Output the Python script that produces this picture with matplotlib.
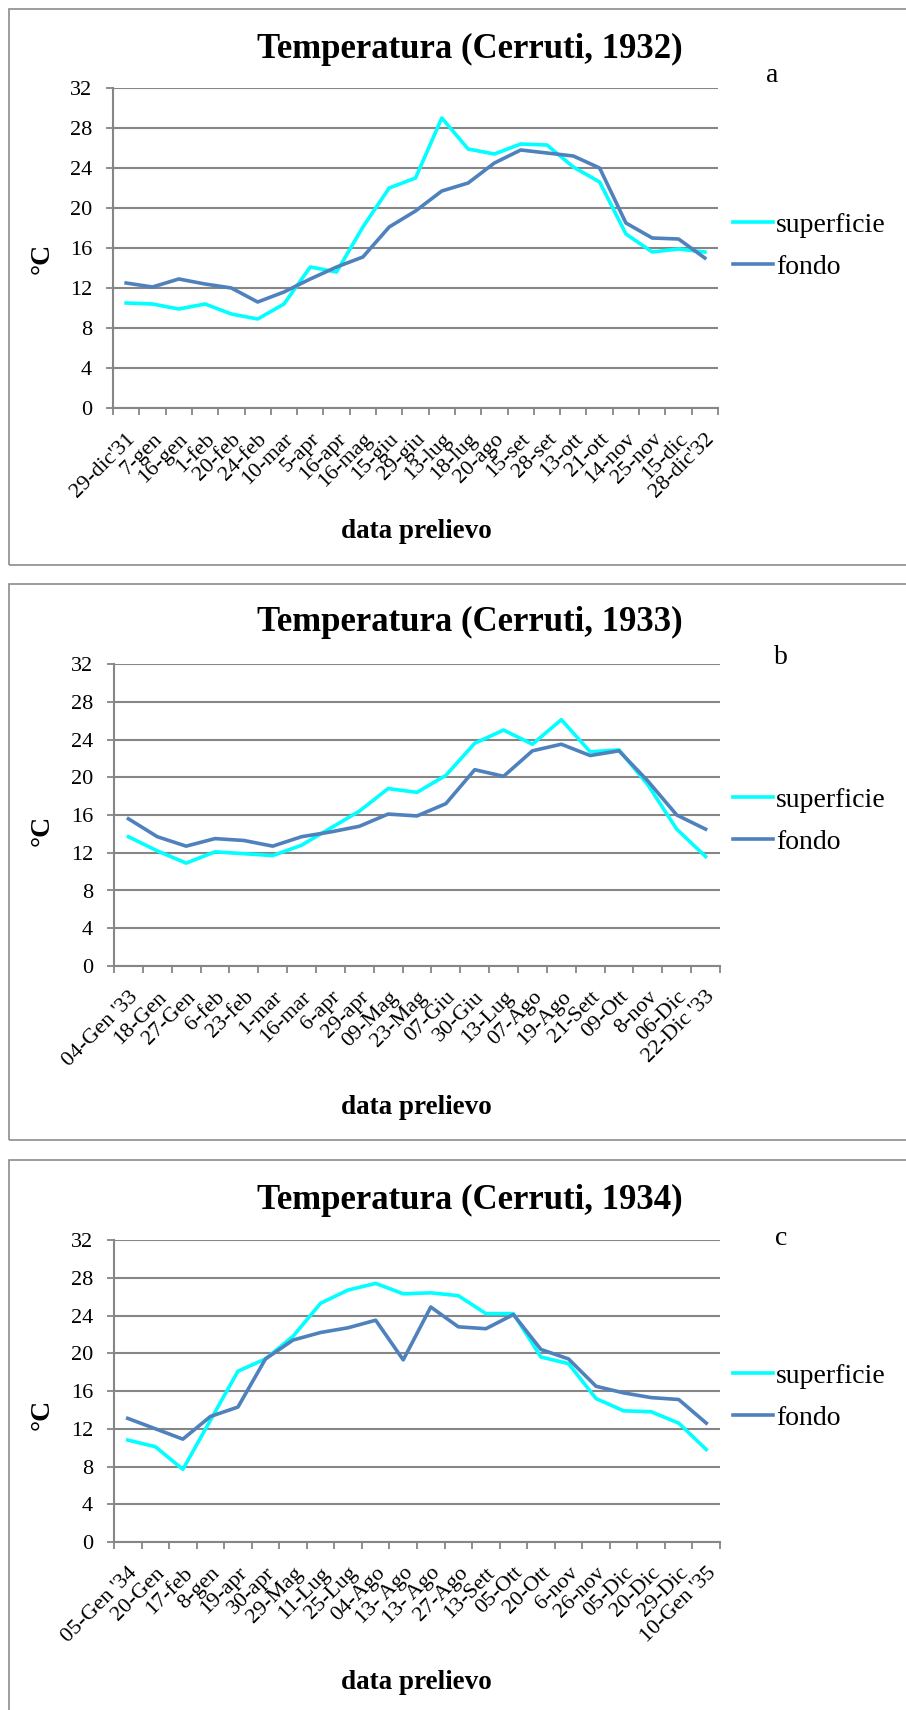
import matplotlib
matplotlib.use("Agg")
import matplotlib.pyplot as plt
from matplotlib.patches import Rectangle

plt.rcParams['font.family'] = ['Liberation Serif', 'DejaVu Serif']

W, H = 906, 1710

# --- dati ---
date_1932 = ["29-dic'31", "7-gen", "16-gen", "1-feb", "20-feb", "24-feb", "10-mar",
             "5-apr", "16-apr", "16-mag", "15-giu", "29-giu", "13-lug", "18-lug",
             "20-ago", "15-set", "28-set", "13-ott", "21-ott", "14-nov", "25-nov",
             "15-dic", "28-dic'32"]
sup_1932 = [10.5, 10.4, 9.9, 10.4, 9.4, 8.9, 10.4, 14.1, 13.6, 18.1, 22.0, 23.0,
            29.0, 25.9, 25.4, 26.4, 26.3, 24.1, 22.6, 17.4, 15.6, 15.9, 15.6]
fon_1932 = [12.5, 12.1, 12.9, 12.4, 12.0, 10.6, 11.6, 12.9, 14.1, 15.1, 18.1, 19.7,
            21.7, 22.5, 24.5, 25.8, 25.5, 25.2, 24.0, 18.5, 17.0, 16.9, 15.0]

date_1933 = ["04-Gen '33", "18-Gen", "27-Gen", "6-feb", "23-feb", "1-mar", "16-mar",
             "6-apr", "29-apr", "09-Mag", "23-Mag", "07-Giu", "30-Giu", "13-Lug",
             "07-Ago", "19-Ago", "21-Sett", "09-Ott", "8-nov", "06-Dic", "22-Dic '33"]
sup_1933 = [13.7, 12.2, 10.9, 12.1, 11.9, 11.7, 12.8, 14.6, 16.4, 18.8, 18.4, 20.2,
            23.6, 25.0, 23.5, 26.1, 22.7, 22.9, 19.2, 14.5, 11.6]
fon_1933 = [15.6, 13.7, 12.7, 13.5, 13.3, 12.7, 13.7, 14.2, 14.8, 16.1, 15.9, 17.2,
            20.8, 20.1, 22.8, 23.5, 22.3, 22.8, 19.6, 16.0, 14.5]

date_1934 = ["05-Gen '34", "20-Gen", "17-feb", "8-gen", "19-apr", "30-apr", "29-Mag",
             "11-Lug", "25-Lug", "04-Ago", "13- Ago", "13- Ago", "27-Ago", "13-Sett",
             "05-Ott", "20-Ott", "6-nov", "26-nov", "05-Dic", "20-Dic", "29-Dic",
             "10-Gen '35"]
sup_1934 = [10.8, 10.1, 7.7, 12.9, 18.1, 19.4, 21.8, 25.3, 26.7, 27.4, 26.3, 26.4,
            26.1, 24.2, 24.2, 19.6, 18.9, 15.2, 13.9, 13.8, 12.6, 9.8]
fon_1934 = [13.1, 12.0, 10.9, 13.3, 14.3, 19.4, 21.4, 22.2, 22.7, 23.5, 19.3, 24.9,
            22.8, 22.6, 24.1, 20.4, 19.4, 16.5, 15.8, 15.3, 15.1, 12.6]

# layout in pixel: (box_top, box_bottom, plot_left, plot_top, plot_right, plot_bottom,
#                   title_y, letter_x, letter_y, leg_y, xlabel_y, ylabel_y)
panels = [
    (date_1932, sup_1932, fon_1932, "Temperatura (Cerruti, 1932)", "a",
     (9, 565, 113, 88, 718, 408, 49, 772, 76, 246, 532, 258)),
    (date_1933, sup_1933, fon_1933, "Temperatura (Cerruti, 1933)", "b",
     (584, 1140, 114, 664, 720, 966, 622, 781, 657, 821, 1107, 830)),
    (date_1934, sup_1934, fon_1934, "Temperatura (Cerruti, 1934)", "c",
     (1160, 1712, 114, 1240, 720, 1542, 1200, 781, 1238, 1397, 1682, 1414)),
]

GRID = '#868686'
CYAN = '#00FFFF'
BLUE = '#4F81BD'

fig = plt.figure(figsize=(W / 100, H / 100), dpi=100)

for labels, sup, fon, title, letter, lay in panels:
    (bt, bb, pl, pt, pr, pb, ty, lx, ly, legy, xly, yly) = lay
    fig.patches.append(Rectangle((9 / W, 1 - bb / H), (W + 5 - 9) / W, (bb - bt) / H,
                                 transform=fig.transFigure, fill=False,
                                 edgecolor='#8c8c8c', linewidth=1.2))
    ax = fig.add_axes([pl / W, 1 - pb / H, (pr - pl) / W, (pb - pt) / H])
    x = range(len(labels))
    ax.plot(x, sup, color=CYAN, linewidth=2.6, label='superficie', solid_joinstyle='round')
    ax.plot(x, fon, color=BLUE, linewidth=2.6, label='fondo', solid_joinstyle='round')
    n = len(labels)
    ax.set_xlim(-0.5, n - 0.5)
    ax.set_ylim(0, 32)
    ax.set_yticks(range(0, 33, 4))
    ax.yaxis.grid(True, color=GRID, linewidth=1.5)
    ax.set_axisbelow(True)
    for s in ['top', 'right']:
        ax.spines[s].set_visible(False)
    ax.spines['left'].set_color(GRID)
    ax.spines['bottom'].set_color(GRID)
    ax.spines['left'].set_linewidth(1.5)
    ax.spines['bottom'].set_linewidth(1.5)
    ax.set_xticks([i - 0.5 for i in range(n + 1)], minor=True)
    ax.set_xticks(list(x))
    ax.set_xticklabels(labels, rotation=45, ha='right', va='top', rotation_mode='anchor',
                       fontsize=16)
    ax.tick_params(axis='x', which='major', length=0, pad=15.5)
    ax.tick_params(axis='x', which='minor', length=5, color=GRID, width=1.3)
    ax.tick_params(axis='y', length=5, color=GRID, width=1.3, labelsize=16, pad=10)

    fig.text(470 / W, 1 - ty / H, title, ha='center', va='center',
             fontsize=25, fontweight='bold')
    fig.text(lx / W, 1 - ly / H, letter, ha='center', va='center', fontsize=20)
    fig.text(416 / W, 1 - xly / H, "data prelievo", ha='center', va='center',
             fontsize=19.5, fontweight='bold')
    fig.text(42 / W, 1 - yly / H, "°C", ha='center', va='center', rotation=90,
             fontsize=20, fontweight='bold')
    ax.legend(loc='center left', bbox_to_anchor=(733 / W, 1 - legy / H),
              bbox_transform=fig.transFigure, frameon=False, fontsize=20,
              handlelength=1.45, handletextpad=0.1, labelspacing=0.6,
              borderpad=0, borderaxespad=0)

fig.savefig("out.png", dpi=100, facecolor='white')
